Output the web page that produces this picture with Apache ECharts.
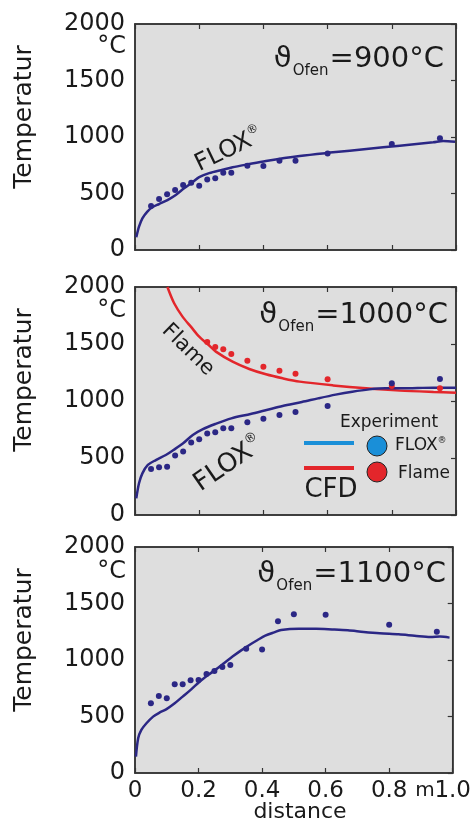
<!DOCTYPE html>
<html><head><meta charset="utf-8">
<script src="https://cdn.jsdelivr.net/npm/echarts@6/dist/echarts.min.js"></script>
<style>html,body{margin:0;padding:0;background:#fff}#c{width:474px;height:827px}</style>
</head><body><div id="c"></div>
<script>
// ---- data ----
const xTicks = [0, 0.2, 0.4, 0.6, 0.8, 1.0];
const yTicks = [0, 500, 1000, 1500, 2000];
const ofenTemps = ['900', '1000', '1100'];

// Panel 1: 900°C
const p1ExpX = [0.05,0.075,0.1,0.125,0.15,0.175,0.2,0.225,0.25,0.275,0.3,0.35,0.4,0.45,0.5,0.6,0.8,0.95];
const p1ExpT = [390,451,493,531,575,596,569,625,634,684,684,746,743,790,790,855,938,988];
const p1CfdX = [0.004,0.0125,0.023,0.0385,0.054,0.075,0.101,0.127,0.153,0.179,0.2,0.231,0.273,0.304,0.351,0.408,0.513,0.617,0.721,0.825,0.929,0.96,0.997];
const p1CfdT = [112,206,280,340,378,407,442,487,546,600,645,680,710,732,758,788,832,864,894,923,953,965,959];

// Panel 2: 1000°C
const p2FloxExpX = [0.05,0.075,0.1,0.125,0.15,0.175,0.2,0.225,0.25,0.275,0.3,0.35,0.4,0.45,0.5,0.6,0.8,0.95];
const p2FloxExpT = [403,418,424,523,556,637,664,716,725,760,760,813,845,877,903,956,1155,1193];
const p2FlameExpX = [0.225,0.25,0.275,0.3,0.35,0.4,0.45,0.5,0.6,0.8,0.95];
const p2FlameExpT = [1518,1474,1453,1412,1354,1301,1266,1240,1190,1132,1111];
const p2FloxCfdX = [0.004,0.0125,0.023,0.04,0.065,0.096,0.12,0.15,0.18,0.21,0.25,0.3,0.36,0.41,0.46,0.52,0.57,0.625,0.677,0.73,0.78,0.83,0.88,0.93,1.0];
const p2FloxCfdT = [146,278,365,439,482,526,570,629,702,751,798,848,886,921,956,991,1023,1056,1082,1102,1111,1111,1114,1117,1117];
const p2FlameCfdX = [0.101,0.122,0.148,0.174,0.2,0.226,0.252,0.304,0.356,0.408,0.46,0.513,0.617,0.72,0.825,0.93,1.0];
const p2FlameCfdT = [2000,1857,1740,1652,1564,1500,1433,1345,1281,1234,1199,1170,1137,1111,1091,1079,1073];

// Panel 3: 1100°C
const p3ExpX = [0.05,0.075,0.1,0.125,0.15,0.175,0.2,0.225,0.25,0.275,0.3,0.35,0.4,0.45,0.5,0.6,0.8,0.95];
const p3ExpT = [617,681,661,785,785,820,823,876,903,938,956,1100,1094,1342,1404,1401,1313,1251];
const p3CfdX = [0.003,0.01,0.02,0.036,0.057,0.077,0.098,0.125,0.15,0.177,0.203,0.23,0.255,0.28,0.307,0.333,0.36,0.386,0.41,0.438,0.46,0.516,0.57,0.62,0.67,0.72,0.77,0.83,0.88,0.93,0.96,0.99];
const p3CfdT = [145,307,381,440,499,534,563,617,676,740,808,867,917,971,1030,1083,1133,1177,1215,1245,1266,1277,1277,1271,1263,1248,1236,1227,1215,1204,1207,1198];

// ---- style ----
const FONT = 'DejaVu Sans';
const NAVY = '#2b2785';
const RED = '#e3262b';
const LEGBLUE = '#1a8fd8';
const INK = '#1a1a1a';
const AX = '#333';

const zip = (xs, ys) => xs.map((x, i) => [x, ys[i]]);

const grids = [
  {left:135, top:24, width:321, height:226},
  {left:135, top:287, width:321, height:228},
  {left:135, top:547, width:320, height:226}
];

const xAxis = [], yAxis = [];
grids.forEach((g, i) => {
  const common = {gridIndex:i, type:'value', min:xTicks[0], max:xTicks[xTicks.length-1], interval:0.2,
    axisLine:{show:true, onZero:false, lineStyle:{color:AX, width:1.5}}, splitLine:{show:false},
    axisTick:{show:true, inside:true, length:5, lineStyle:{color:AX, width:1.2}}};
  xAxis.push(Object.assign({}, common, {position:'bottom',
    axisLabel:{show:i===2, fontFamily:FONT, fontSize:23, color:INK, margin:7,
      formatter: v => v === 0 ? '0' : v.toFixed(1)}}));
  xAxis.push(Object.assign({}, common, {position:'top', axisLabel:{show:false}}));
  const yc = {gridIndex:i, type:'value', min:yTicks[0], max:yTicks[yTicks.length-1], interval:500,
    axisLine:{show:true, onZero:false, lineStyle:{color:AX, width:1.5}}, splitLine:{show:false}};
  yAxis.push(Object.assign({}, yc, {position:'left', axisTick:{show:false},
    axisLabel:{fontFamily:FONT, fontSize:24, color:INK, margin:10, formatter: v => String(v)}}));
  yAxis.push(Object.assign({}, yc, {position:'right', axisLabel:{show:false},
    axisTick:{show:true, inside:true, length:5, lineStyle:{color:AX, width:1.2}}}));
});

function lineS(i, xs, ys, color) {
  return {type:'line', xAxisIndex:2*i, yAxisIndex:2*i, data:zip(xs, ys), smooth:0.3, showSymbol:false,
    lineStyle:{color:color, width:2.5}, itemStyle:{color:color}, clip:true, z:3};
}
function scatS(i, xs, ys, color) {
  return {type:'scatter', xAxisIndex:2*i, yAxisIndex:2*i, data:zip(xs, ys), symbolSize:6,
    itemStyle:{color:color, opacity:1}, z:4};
}

const series = [
  lineS(0, p1CfdX, p1CfdT, NAVY), scatS(0, p1ExpX, p1ExpT, NAVY),
  lineS(1, p2FlameCfdX, p2FlameCfdT, RED), scatS(1, p2FlameExpX, p2FlameExpT, RED),
  lineS(1, p2FloxCfdX, p2FloxCfdT, NAVY), scatS(1, p2FloxExpX, p2FloxExpT, NAVY),
  lineS(2, p3CfdX, p3CfdT, NAVY), scatS(2, p3ExpX, p3ExpT, NAVY)
];

function txt(text, x, y, size, opts) {
  return Object.assign({type:'text', x:x, y:y, z:10,
    style:Object.assign({text:text, fontFamily:FONT, fontSize:size, fill:INK, align:'center', verticalAlign:'middle'}, (opts && opts.style) || {})},
    opts ? {rotation: opts.rotation || 0} : {});
}
function titleEl(label, xRight, yMid) {
  return {type:'text', x:xRight, y:yMid, z:10, style:{
    text:'{a|ϑ}{b|Ofen}{c|=' + label + '°C}', align:'right', verticalAlign:'middle',
    rich:{
      a:{fontFamily:FONT, fontSize:29, fill:INK, lineHeight:40},
      b:{fontFamily:FONT, fontSize:15, fill:INK, lineHeight:15, verticalAlign:'bottom', padding:[0,1,0,1]},
      c:{fontFamily:FONT, fontSize:29, fill:INK, lineHeight:40}
    }}};
}
function floxEl(x, y, size, rot) {
  return {type:'text', x:x, y:y, rotation:rot, z:10, style:{
    text:'{a|FLOX}{b|®}', align:'center', verticalAlign:'middle',
    rich:{a:{fontFamily:FONT, fontSize:size, fill:INK, lineHeight:size+4},
          b:{fontFamily:FONT, fontSize:Math.round(size*0.5), fill:INK, verticalAlign:'top', lineHeight:size+4}}}};
}

const graphic = [];
const tempMid = [117, 380, 640];
const degMid = [47, 311, 572];
const titleMid = [59, 315, 574];
const titleRight = [444, 448, 446];
grids.forEach((g, i) => {
  graphic.push(txt('Temperatur', 24, tempMid[i], 25, {rotation:Math.PI/2}));
  graphic.push(txt('°C', 126, degMid[i], 24, {style:{align:'right'}}));
  graphic.push(titleEl(ofenTemps[i], titleRight[i], titleMid[i]));
});
graphic.push(floxEl(229, 150, 24, 0.45));
graphic.push(floxEl(229, 464, 26, 0.6));
graphic.push(txt('Flame', 188, 350, 21, {rotation:-0.78}));
// legend
graphic.push(txt('Experiment', 389, 423, 17));
graphic.push({type:'line', z:10, shape:{x1:304, y1:443, x2:354, y2:443}, style:{stroke:LEGBLUE, lineWidth:4}});
graphic.push({type:'circle', z:10, shape:{cx:377, cy:446, r:10}, style:{fill:LEGBLUE, stroke:'#222', lineWidth:1}});
graphic.push({type:'text', x:395, y:446, z:10, style:{text:'{a|FLOX}{b|®}', align:'left', verticalAlign:'middle',
  rich:{a:{fontFamily:FONT, fontSize:17, fill:INK, lineHeight:20}, b:{fontFamily:FONT, fontSize:9, fill:INK, verticalAlign:'top', lineHeight:20}}}});
graphic.push({type:'line', z:10, shape:{x1:304, y1:468, x2:354, y2:468}, style:{stroke:RED, lineWidth:4}});
graphic.push({type:'circle', z:10, shape:{cx:377, cy:472, r:10}, style:{fill:RED, stroke:'#222', lineWidth:1}});
graphic.push(txt('Flame', 398, 474, 17, {style:{align:'left'}}));
graphic.push(txt('CFD', 331, 490, 26));
// x axis extra
graphic.push(txt('m', 425, 791, 20));
graphic.push(txt('distance', 300, 812, 22));

const chart = echarts.init(document.getElementById('c'), null, {renderer:'canvas'});
chart.setOption({
  animation:false,
  backgroundColor:'#ffffff',
  grid: grids.map(g => Object.assign({show:true, backgroundColor:'#dedede', borderColor:AX, borderWidth:1.5}, g)),
  xAxis: xAxis, yAxis: yAxis, series: series, graphic: graphic
});
</script></body></html>
